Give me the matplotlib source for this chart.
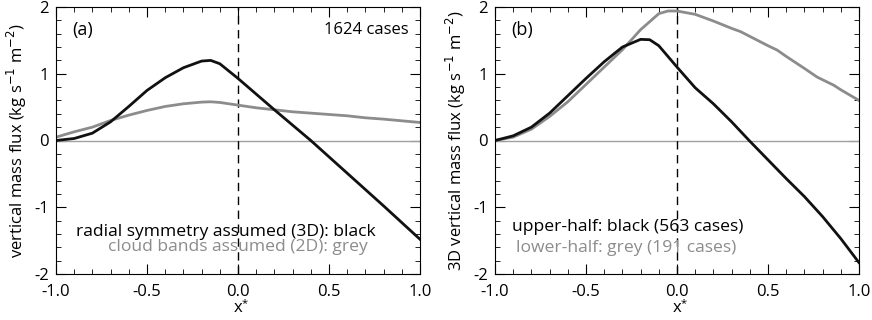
import numpy as np
import matplotlib
matplotlib.use("Agg")
import matplotlib.pyplot as plt
from matplotlib.ticker import MultipleLocator

plt.rcParams['font.family'] = ['Open Sans', 'DejaVu Sans']
plt.rcParams['font.size'] = 12

# panel (a)
xa_black = [-1.0, -0.9, -0.8, -0.7, -0.6, -0.5, -0.4, -0.3, -0.2, -0.15, -0.1, -0.05, 0.0, 0.2, 0.4, 0.6, 0.8, 1.0]
ya_black = [0.0, 0.03, 0.11, 0.28, 0.51, 0.75, 0.94, 1.09, 1.19, 1.2, 1.15, 1.04, 0.93, 0.46, 0.0, -0.49, -0.98, -1.48]
xa_grey = [-1.0, -0.9, -0.8, -0.7, -0.6, -0.5, -0.4, -0.3, -0.2, -0.15, -0.1, 0.0, 0.1, 0.2, 0.3, 0.4, 0.5, 0.6, 0.7, 0.8, 0.9, 1.0]
ya_grey = [0.05, 0.13, 0.2, 0.3, 0.38, 0.45, 0.51, 0.55, 0.575, 0.58, 0.57, 0.53, 0.49, 0.46, 0.43, 0.41, 0.39, 0.37, 0.34, 0.32, 0.295, 0.27]

# panel (b)
xb_black = [-1.0, -0.9, -0.8, -0.7, -0.6, -0.5, -0.4, -0.3, -0.2, -0.15, -0.1, 0.0, 0.1, 0.2, 0.3, 0.4, 0.5, 0.6, 0.7, 0.8, 0.9, 1.0]
yb_black = [0.0, 0.07, 0.2, 0.41, 0.67, 0.93, 1.18, 1.4, 1.515, 1.51, 1.42, 1.1, 0.79, 0.55, 0.28, -0.01, -0.29, -0.57, -0.84, -1.14, -1.47, -1.83]
xb_grey = [-1.0, -0.9, -0.8, -0.7, -0.6, -0.5, -0.4, -0.3, -0.2, -0.1, -0.05, 0.0, 0.1, 0.2, 0.3, 0.35, 0.4, 0.5, 0.55, 0.6, 0.7, 0.77, 0.8, 0.86, 0.9, 1.0]
yb_grey = [0.0, 0.05, 0.17, 0.36, 0.58, 0.84, 1.1, 1.36, 1.66, 1.9, 1.94, 1.94, 1.89, 1.79, 1.68, 1.63, 1.56, 1.42, 1.355, 1.26, 1.08, 0.95, 0.91, 0.83, 0.76, 0.6]

grey = '#8c8c8c'
fig = plt.figure(figsize=(8.72, 3.2), dpi=100)
ax1 = fig.add_axes([56/872, 1 - 274/320, 364/872, 267/320])
ax2 = fig.add_axes([495/872, 1 - 274/320, 364/872, 267/320])

for ax in (ax1, ax2):
    ax.set_xlim(-1, 1)
    ax.set_ylim(-2, 2)
    ax.axhline(0, color='#a0a0a0', lw=1)
    ax.axvline(0, color='black', lw=1, ls=(0, (6, 4)))
    ax.xaxis.set_minor_locator(MultipleLocator(0.1))
    ax.yaxis.set_minor_locator(MultipleLocator(0.2))
    ax.tick_params(which='both', direction='in', top=True, right=True, labelsize=12)
    ax.tick_params(which='major', length=7)
    ax.tick_params(which='minor', length=3.5)
    ax.tick_params(axis='x', pad=7)
    ax.tick_params(axis='y', pad=5)
    ax.set_xticks([-1, -0.5, 0, 0.5, 1])
    ax.set_xticklabels(['-1.0', '-0.5', '0.0', '0.5', '1.0'])
    ax.set_yticks([-2, -1, 0, 1, 2])
    ax.set_yticklabels(['-2', '-1', '0', '1', '2'])
    ax.set_xlabel('x', labelpad=0, fontsize=12)
    ax.text(0.511, -0.112, '*', transform=ax.transAxes, fontsize=8, ha='left', va='center')

ax1.plot(xa_grey, ya_grey, color=grey, lw=2)
ax1.plot(xa_black, ya_black, color='#111111', lw=2)
ax1.set_ylabel('vertical mass flux (kg s$^{-1}$ m$^{-2}$)', fontsize=12, labelpad=4)
ax1.text(0.046, 0.915, '(a)', transform=ax1.transAxes, fontsize=13, va='center')
ax1.text(0.97, 0.915, '1624 cases', transform=ax1.transAxes, ha='right', va='center', fontsize=12)
ax1.text(0.467, 0.157, 'radial symmetry assumed (3D): black', transform=ax1.transAxes,
         ha='center', va='center', fontsize=12.6)
ax1.text(0.50, 0.10, 'cloud bands assumed (2D): grey', transform=ax1.transAxes,
         ha='center', va='center', fontsize=12.6, color=grey)

ax2.plot(xb_grey, yb_grey, color=grey, lw=2)
ax2.plot(xb_black, yb_black, color='#111111', lw=2)
ax2.set_ylabel('3D vertical mass flux (kg s$^{-1}$ m$^{-2}$)', fontsize=12, labelpad=4)
ax2.text(0.046, 0.915, '(b)', transform=ax2.transAxes, fontsize=13, va='center')
ax2.text(0.047, 0.176, 'upper-half: black (563 cases)', transform=ax2.transAxes,
         ha='left', va='center', fontsize=12.6)
ax2.text(0.058, 0.097, 'lower-half: grey (191 cases)', transform=ax2.transAxes,
         ha='left', va='center', fontsize=12.6, color=grey)

fig.savefig('out.png', dpi=100)
